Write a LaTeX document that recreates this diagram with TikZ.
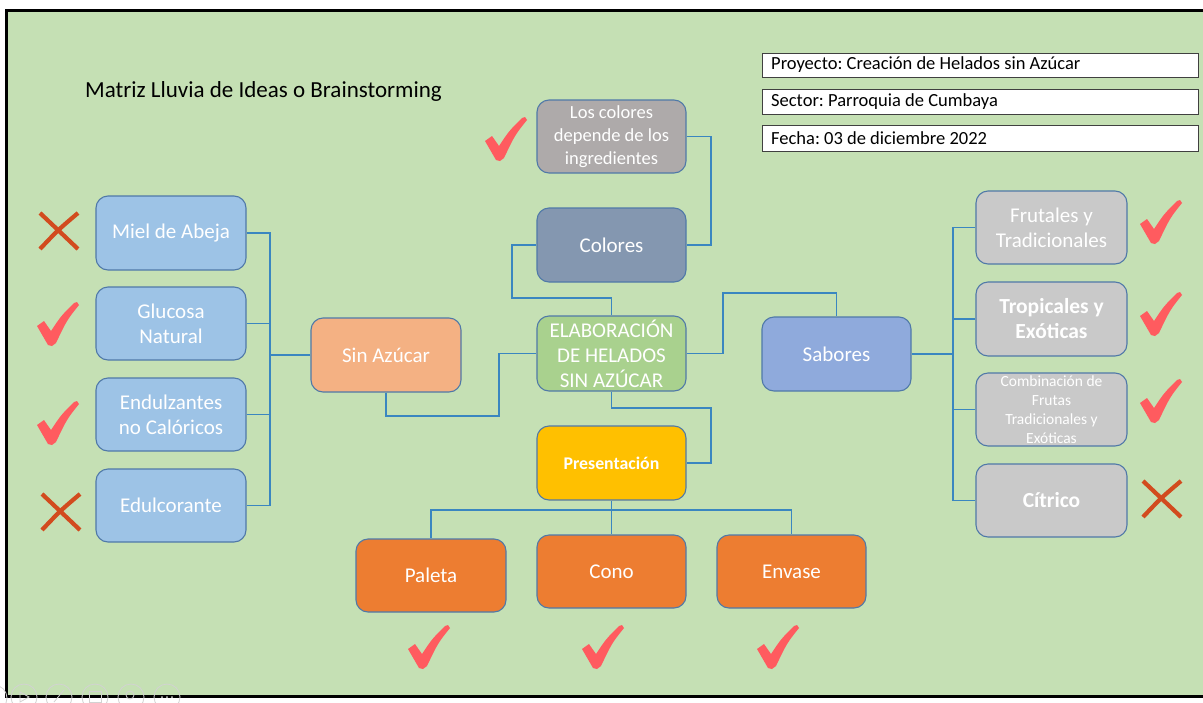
\documentclass[tikz,border=0pt]{standalone}
\usepackage{fontspec}
\setmainfont{Carlito}
\frenchspacing
\usetikzlibrary{calc}
\definecolor{bggreen}{HTML}{C5E0B4}
\definecolor{skyblue}{HTML}{9DC3E6}
\definecolor{peach}{HTML}{F4B183}
\definecolor{leaf}{HTML}{A9D18E}
\definecolor{slate}{HTML}{8497B0}
\definecolor{stone}{HTML}{AEAAAA}
\definecolor{gold}{HTML}{FFC000}
\definecolor{pumpkin}{HTML}{ED7D31}
\definecolor{cornflower}{HTML}{8FAADC}
\definecolor{silver}{HTML}{C9C9C9}
\definecolor{edge}{HTML}{5079A8}
\definecolor{wire}{HTML}{3A86C0}
\definecolor{okred}{HTML}{FF5B5F}
\definecolor{nored}{HTML}{D24B1E}
\tikzset{
  box/.style={draw=edge, line width=1.1pt, rounded corners=12pt, inner sep=0pt,
    text=white, align=center, font=\fontsize{21}{25}\selectfont},
  conn/.style={draw=wire, line width=1.3pt},
  infobox/.style={draw=black!75, fill=white, line width=1pt, inner sep=0pt,
    minimum width=436pt},
  infotext/.style={anchor=west, inner sep=0pt, font=\fontsize{18.5}{21}\selectfont},
  okmark/.pic={
    \fill[okred] (0,24) .. controls (3,21) .. (7,19) -- (14,29)
      .. controls (24,14) .. (37,1) -- (40,0) -- (42,3)
      .. controls (30,18) .. (19,41) -- (15,44) -- (11,43) -- cycle;
  },
  nomark/.pic={
    \draw[nored, line width=4.2pt] (2,1) .. controls (20,18) .. (40,37);
    \draw[nored, line width=4.2pt] (40,1) .. controls (20,18) .. (2,37);
  },
  uiicon/.style={draw=gray!35, line width=0.8pt}
}
\begin{document}
\begin{tikzpicture}[x=1pt, y=-1pt]
% page and framed slide area
\useasboundingbox (0,0) rectangle (1203,702);
\fill[white] (0,0) rectangle (1203,702);
\fill[bggreen] (7,10) rectangle (1203,696);
\draw[black, line width=3pt] (1203,10) -- (6.5,10) -- (6.5,696.5) -- (1203,696.5);

% title
\node[anchor=west, inner sep=0pt, font=\fontsize{23}{26}\selectfont] (title) at (85,91) {Matriz Lluvia de Ideas o Brainstorming};

% project details
\node[infobox, minimum height=24pt] (proj) at (980,65) {};
\node[infotext] (projt) at (771,65) {Proyecto: Creación de Helados sin Azúcar};
\node[infobox, minimum height=25pt] (sect) at (980,101.5) {};
\node[infotext] (sectt) at (771,101.5) {Sector: Parroquia de Cumbaya};
\node[infobox, minimum height=26pt] (fech) at (980,138) {};
\node[infotext] (fecht) at (771,138) {Fecha: 03 de diciembre 2022};

% sweetener options
\node[box, fill=skyblue, minimum width=150pt, minimum height=74pt] (m1) at (171,233) {Miel de Abeja};
\node[box, fill=skyblue, minimum width=150pt, minimum height=73pt] (m2) at (171,323.5) {Glucosa\\Natural};
\node[box, fill=skyblue, minimum width=150pt, minimum height=73pt] (m3) at (171,414.5) {Endulzantes\\no Calóricos};
\node[box, fill=skyblue, minimum width=150pt, minimum height=73pt] (m4) at (171,505.5) {Edulcorante};

% central branches
\node[box, fill=peach, minimum width=150pt, minimum height=74pt] (sin) at (386,355) {Sin Azúcar};
\node[box, fill=leaf, minimum width=149pt, minimum height=75pt] (elab) at (611.5,353.5) {ELABORACIÓN\\DE HELADOS\\SIN AZÚCAR};
\node[box, fill=slate, minimum width=149pt, minimum height=74pt] (col) at (611.5,245) {Colores};
\node[box, fill=stone, minimum width=149pt, minimum height=73pt, font=\fontsize{18.5}{23}\selectfont] (loscol) at (611.5,136.5) {Los colores\\depende de los\\ingredientes};
\node[box, fill=gold, minimum width=149pt, minimum height=74pt, font=\fontsize{17.8}{20}\selectfont\bfseries] (pres) at (611.5,463) {Presentación};
\node[box, fill=cornflower, minimum width=149pt, minimum height=74pt] (sab) at (836.5,354) {Sabores};

% presentation formats
\node[box, fill=pumpkin, minimum width=150pt, minimum height=73pt] (pal) at (431,575.5) {Paleta};
\node[box, fill=pumpkin, minimum width=149pt, minimum height=73pt] (cono) at (611.5,571.5) {Cono};
\node[box, fill=pumpkin, minimum width=149pt, minimum height=73pt] (env) at (791.5,571.5) {Envase};

% flavour groups
\node[box, fill=silver, minimum width=151pt, minimum height=73pt] (r1) at (1051.5,227.5) {Frutales y\\Tradicionales};
\node[box, fill=silver, minimum width=151pt, minimum height=74pt, font=\fontsize{21.5}{25}\selectfont\bfseries] (r2) at (1051.5,319) {Tropicales y\\Exóticas};
\node[box, fill=silver, minimum width=151pt, minimum height=73pt, font=\fontsize{15.5}{18.8}\selectfont] (r3) at (1051.5,409.5) {Combinación de\\Frutas\\Tradicionales y\\Exóticas};
\node[box, fill=silver, minimum width=151pt, minimum height=73pt, font=\fontsize{21.5}{25}\selectfont\bfseries] (r4) at (1051.5,500.5) {Cítrico};

% connector junctions
\coordinate (lbus) at (270,355);
\coordinate (j1) at (499,416);
\coordinate (j2) at (512,298);
\coordinate (j3) at (711,190);
\coordinate (j4) at (711,408);
\coordinate (j5) at (723,293);
\coordinate (pbus) at (611.5,510);
\coordinate (rbus) at (953,354);

% connectors
\draw[conn] (m1.east) -| (m4.east -| lbus) -- (m4.east);
\draw[conn] (m2.east) -- (m2.east -| lbus);
\draw[conn] (m3.east) -- (m3.east -| lbus);
\draw[conn] (sin.west) -- (sin.west -| lbus);
\draw[conn] (sin.south) |- (j1) |- (elab.west);
\draw[conn] (col.west) -| (j2) -| (elab.north);
\draw[conn] (loscol.east) -| (j3) |- (col.east);
\draw[conn] (elab.south) |- (j4) |- (pres.east);
\draw[conn] (elab.east) -| (j5) -| (sab.north);
\draw[conn] (pal.north) |- (pbus) -| (env.north);
\draw[conn] (pres.south) -- (cono.north);
\draw[conn] (r1.west) -| (r4.west -| rbus) -- (r4.west);
\draw[conn] (r2.west) -- (r2.west -| rbus);
\draw[conn] (r3.west) -- (r3.west -| rbus);
\draw[conn] (sab.east) -- (rbus);

% approval marks
\pic at (38,212) {nomark};
\pic at (37,302) {okmark};
\pic at (37,401) {okmark};
\pic at (40,493) {nomark};
\pic at (485,117) {okmark};
\pic at (1140,200) {okmark};
\pic at (1140,292) {okmark};
\pic at (1140,379) {okmark};
\pic at (1141,480) {nomark};
\pic at (408,625) {okmark};
\pic at (582,625) {okmark};
\pic at (757,625) {okmark};

% faint slideshow controls
\draw[uiicon] (-6,698) circle (13);
\draw[uiicon] (24,697) circle (13);
\draw[uiicon] (20,692) -- (20,702) -- (29,697) -- cycle;
\draw[uiicon] (59,697) circle (13);
\draw[uiicon] (54,702) -- (64,690);
\draw[uiicon] (95,697) circle (13);
\draw[uiicon] (89,691) rectangle (101,702);
\draw[uiicon] (131,697) circle (13);
\draw[uiicon] (130,695) circle (4);
\draw[uiicon] (167,697) circle (13);
\fill[gray!35] (162,697) circle (1) (167,697) circle (1) (172,697) circle (1);
\end{tikzpicture}
\end{document}
